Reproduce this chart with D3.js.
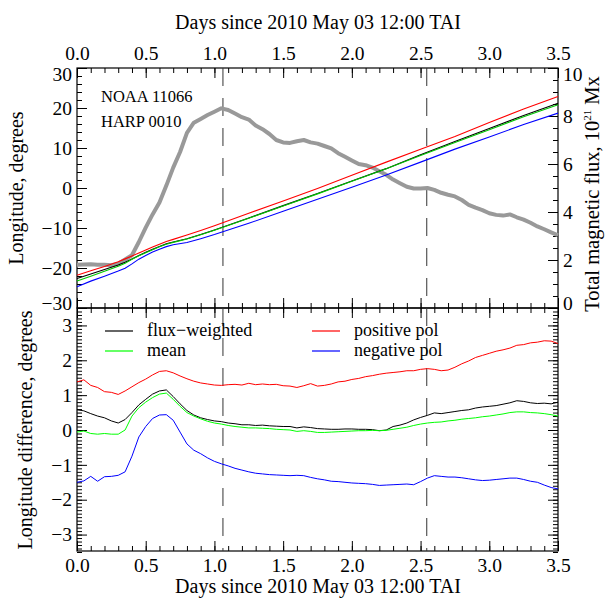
<!DOCTYPE html>
<html><head><meta charset="utf-8">
<script src="https://cdn.jsdelivr.net/npm/d3@7"></script>
<style>
body{margin:0;background:#fff}
text{font-family:"Liberation Serif","Times New Roman",serif;fill:#000}
</style>
</head><body>
<svg id="chart" width="605" height="605"></svg>
<script>
// ---------- data ----------
const days = [0,0.05,0.1,0.15,0.2,0.25,0.3,0.35,0.4,0.45,0.5,0.55,0.6,0.65,0.7,0.75,0.8,0.85,0.9,0.95,
  1,1.05,1.1,1.15,1.2,1.25,1.3,1.35,1.4,1.45,1.5,1.55,1.6,1.65,1.7,1.75,1.8,1.85,1.9,1.95,
  2,2.05,2.1,2.15,2.2,2.25,2.3,2.35,2.4,2.45,2.5,2.55,2.6,2.65,2.7,2.75,2.8,2.85,2.9,2.95,
  3,3.05,3.1,3.15,3.2,3.25,3.3,3.35,3.4,3.45,3.5];
const diffPositive = [1.38,1.44,1.28,1.22,1.10,1.08,1.02,1.12,1.24,1.36,1.46,1.58,1.68,1.70,1.64,1.55,1.47,1.40,1.35,1.32,
  1.29,1.28,1.30,1.31,1.29,1.34,1.30,1.32,1.30,1.31,1.27,1.26,1.22,1.27,1.33,1.26,1.28,1.32,1.38,1.40,
  1.45,1.48,1.53,1.56,1.60,1.63,1.65,1.67,1.70,1.70,1.74,1.76,1.74,1.70,1.72,1.80,1.90,1.98,2.08,2.14,
  2.20,2.26,2.30,2.35,2.43,2.45,2.50,2.52,2.56,2.55,2.48];
const diffFluxWeighted = [0.58,0.55,0.47,0.40,0.35,0.26,0.20,0.30,0.50,0.72,0.88,1.03,1.12,1.15,0.96,0.75,0.56,0.43,0.35,0.30,
  0.26,0.24,0.20,0.18,0.15,0.15,0.13,0.14,0.12,0.11,0.10,0.10,0.06,0.09,0.07,0.04,0.03,0.02,0.02,0.03,
  0.03,0.02,0.02,0.01,-0.02,0.00,0.10,0.14,0.20,0.29,0.36,0.42,0.49,0.47,0.50,0.53,0.56,0.58,0.63,0.66,
  0.68,0.70,0.74,0.78,0.84,0.82,0.78,0.76,0.77,0.75,0.80];
const diffMean = [-0.06,-0.03,-0.10,-0.12,-0.10,-0.12,-0.12,0.00,0.40,0.64,0.80,0.93,1.03,1.06,0.88,0.68,0.50,0.40,0.32,0.25,
  0.20,0.17,0.13,0.10,0.08,0.06,0.06,0.05,0.04,0.02,0.01,0.00,-0.04,-0.02,-0.04,-0.07,-0.07,-0.06,-0.05,-0.04,
  -0.03,-0.02,-0.02,-0.01,-0.02,-0.01,0.02,0.05,0.08,0.13,0.17,0.20,0.22,0.23,0.26,0.28,0.31,0.33,0.35,0.38,
  0.40,0.43,0.46,0.50,0.52,0.52,0.50,0.49,0.47,0.44,0.40];
const diffNegative = [-1.50,-1.46,-1.33,-1.47,-1.34,-1.33,-1.30,-1.20,-0.75,-0.20,0.10,0.33,0.43,0.44,0.28,-0.06,-0.40,-0.58,-0.68,-0.80,
  -0.90,-0.97,-1.03,-1.10,-1.15,-1.20,-1.24,-1.26,-1.28,-1.29,-1.30,-1.31,-1.30,-1.31,-1.36,-1.40,-1.43,-1.47,-1.48,-1.50,
  -1.52,-1.53,-1.54,-1.56,-1.59,-1.58,-1.57,-1.56,-1.55,-1.57,-1.48,-1.38,-1.31,-1.33,-1.35,-1.35,-1.37,-1.40,-1.43,-1.45,
  -1.44,-1.42,-1.40,-1.38,-1.38,-1.42,-1.47,-1.50,-1.58,-1.65,-1.69];

const lonDays = [0,0.1,0.2,0.3,0.35,0.4,0.45,0.5,0.55,0.6,0.65,0.7,0.8,0.9,1.0,1.25,1.5,1.75,2.0,2.25,2.5,2.75,3.0,3.25,3.5];
const lonPositive = [-21.82,-20.67,-19.61,-18.44,-17.72,-16.98,-16.23,-15.51,-14.77,-14.04,-13.40,-12.84,-11.76,-10.64,-9.45,-6.29,-3.24,-0.14,3.17,6.47,9.69,12.87,16.38,19.75,22.89];
const lonFluxWeighted = [-22.62,-21.48,-20.36,-19.26,-18.54,-17.72,-16.87,-16.09,-15.32,-14.60,-13.95,-13.52,-12.67,-11.64,-10.48,-7.48,-4.41,-1.36,1.75,4.84,8.31,11.60,14.86,18.12,21.21];
const lonMean = [-23.26,-22.05,-20.81,-19.58,-18.84,-17.82,-16.95,-16.17,-15.42,-14.69,-14.04,-13.60,-12.73,-11.67,-10.54,-7.57,-4.50,-1.47,1.69,4.83,8.12,11.35,14.58,17.82,20.81];
const lonNegative = [-24.70,-23.28,-22.05,-20.76,-20.04,-18.97,-17.79,-16.87,-16.02,-15.29,-14.66,-14.20,-13.63,-12.67,-11.64,-8.83,-5.81,-2.80,0.20,3.26,6.47,9.72,12.74,15.88,18.72];

const fluxDays = days;
const totalFlux = [1.80,1.81,1.82,1.80,1.80,1.78,1.85,2.02,2.20,2.75,3.35,3.90,4.40,5.10,5.85,6.50,7.30,7.72,7.88,8.04,
  8.18,8.32,8.25,8.10,7.95,7.85,7.60,7.45,7.25,7.00,6.90,6.88,6.95,7.00,6.90,6.85,6.75,6.65,6.45,6.30,
  6.15,6.00,5.95,5.85,5.70,5.55,5.35,5.20,5.05,4.98,4.98,5.00,4.92,4.80,4.72,4.65,4.50,4.30,4.18,4.08,
  3.95,3.88,3.85,3.90,3.78,3.68,3.55,3.40,3.28,3.15,3.03];

const markerDays = [1.062, 2.545];
const dayTicks = [0,0.5,1,1.5,2,2.5,3,3.5];
const lonTicks = [-30,-20,-10,0,10,20,30];
const fluxTicks = [0,2,4,6,8,10];
const diffTicks = [-3,-2,-1,0,1,2,3];
const legendLabels = ["flux\u2212weighted","mean","positive pol","negative pol"];
const legendColors = ["#000000","#00ff00","#ff0000","#0000ff"];
const xTitle = "Days since 2010 May 03 12:00 TAI";

// ---------- layout ----------
const L = 77, R = 558, T = 68, M = 308, B = 551;
const svg = d3.select("#chart");
svg.append("rect").attr("width",605).attr("height",605).attr("fill","#fff");

const x = d3.scaleLinear([0,3.5],[L,R]);
const yLon = d3.scaleLinear([-30,30],[M,T]);
const yFlux = d3.scaleLinear([0,10],[M,T]);
const yDiff = d3.scaleLinear([-3.5,3.5],[B+1,M]);

const minorDays = d3.range(0,36).map(i=>i/10);
const minorLon = d3.range(-15,16).map(i=>i*2);
const minorFlux = d3.range(0,21).map(i=>i*0.5);
const minorDiff = d3.range(-35,36).map(i=>i/10);

function styleAxis(g){
  g.selectAll(".domain").remove();
  g.selectAll(".tick line").attr("stroke","#000").attr("stroke-width",1);
  g.selectAll("text").style("font-size","19.5px").attr("fill","#000");
}
function addAxis(axisFn, scale, pos, majors, minors, labels, fmt){
  const gMin = svg.append("g").attr("transform",pos)
    .call(axisFn(scale).tickValues(minors).tickSize(-5).tickFormat(""));
  styleAxis(gMin);
  const ax = axisFn(scale).tickValues(majors).tickSize(-10).tickPadding(labels?7:0);
  ax.tickFormat(labels ? fmt : "");
  const g = svg.append("g").attr("transform",pos).call(ax);
  styleAxis(g);
  return g;
}
const fmtDay = d3.format(".1f");
const fmtInt = d=> d<0 ? "\u2212"+Math.abs(d) : String(d);

// top panel axes
const gTopX = addAxis(d3.axisTop, x, `translate(0,${T})`, dayTicks, minorDays, true, fmtDay);
gTopX.selectAll("text").attr("dy","0em").attr("y",-8);
addAxis(d3.axisBottom, x, `translate(0,${M})`, dayTicks, minorDays, false);
const gLonY = addAxis(d3.axisLeft, yLon, `translate(${L},0)`, lonTicks, minorLon, true, fmtInt);
gLonY.selectAll("text").attr("x",-5);
gLonY.selectAll(".tick").filter(d=>d===30).select("text").attr("dy","0.65em");
gLonY.selectAll(".tick").filter(d=>d===-30).select("text").attr("dy","0.1em");
const gFluxY = addAxis(d3.axisRight, yFlux, `translate(${R},0)`, fluxTicks, minorFlux, true, d=>String(d));
gFluxY.selectAll("text").attr("x",5);
gFluxY.selectAll(".tick").filter(d=>d===10).select("text").attr("dy","0.65em");
gFluxY.selectAll(".tick").filter(d=>d===0).select("text").attr("dy","0.1em");

// bottom panel axes
addAxis(d3.axisTop, x, `translate(0,${M})`, dayTicks, minorDays, false);
const gBotX = addAxis(d3.axisBottom, x, `translate(0,${B})`, dayTicks, minorDays, true, fmtDay);
gBotX.selectAll("text").attr("dy","0em").attr("y",21);
const gDiffY = addAxis(d3.axisLeft, yDiff, `translate(${L},0)`, diffTicks, minorDiff, true, fmtInt);
gDiffY.selectAll("text").attr("x",-5);
addAxis(d3.axisRight, yDiff, `translate(${R},0)`, diffTicks, minorDiff, false);

// frames
svg.append("rect").attr("x",L).attr("y",T).attr("width",R-L).attr("height",M-T)
  .attr("fill","none").attr("stroke","#000").attr("stroke-width",1.2);
svg.append("rect").attr("x",L).attr("y",M).attr("width",R-L).attr("height",B-M)
  .attr("fill","none").attr("stroke","#000").attr("stroke-width",1.2);

// dashed markers
markerDays.forEach(d=>{
  [[T,M],[M,B]].forEach(([y0,y1])=>{
    svg.append("line").attr("x1",x(d)).attr("x2",x(d)).attr("y1",y0).attr("y2",y1)
      .attr("stroke","#333").attr("stroke-width",1).attr("stroke-dasharray","18,12");
  });
});

// total flux (grey, right axis)
const lineFlux = d3.line().x((d,i)=>x(fluxDays[i])).y(d=>yFlux(d));
svg.append("path").datum(totalFlux).attr("d",lineFlux)
  .attr("fill","none").attr("stroke","#999").attr("stroke-width",4).attr("stroke-linejoin","round");

// longitudes
const lineLon = d3.line().x((d,i)=>x(lonDays[i])).y(d=>yLon(d));
[[lonFluxWeighted,"#000000"],[lonMean,"#00c800"],[lonPositive,"#ff0000"],[lonNegative,"#0000ff"]].forEach(([arr,c])=>{
  svg.append("path").datum(arr).attr("d",lineLon).attr("fill","none").attr("stroke",c).attr("stroke-width",1.1);
});

// differences
const lineDiff = d3.line().x((d,i)=>x(days[i])).y(d=>yDiff(d));
[[diffFluxWeighted,"#000000"],[diffMean,"#00ff00"],[diffPositive,"#ff0000"],[diffNegative,"#0000ff"]].forEach(([arr,c])=>{
  svg.append("path").datum(arr).attr("d",lineDiff).attr("fill","none").attr("stroke",c).attr("stroke-width",1);
});

// legend
const legPos = [[105,331],[105,351],[312,331],[312,351]];
legendLabels.forEach((lab,i)=>{
  const [lx,ly] = legPos[i];
  svg.append("line").attr("x1",lx).attr("x2",lx+28).attr("y1",ly).attr("y2",ly)
    .attr("stroke",legendColors[i]).attr("stroke-width",1.2);
  svg.append("text").attr("x",lx+42).attr("y",ly+5).style("font-size","18px").text(lab);
});

// annotations
svg.append("text").attr("x",101).attr("y",102).style("font-size","16.5px").text("NOAA 11066");
svg.append("text").attr("x",101).attr("y",127).style("font-size","16.5px").text("HARP 0010");

// titles
svg.append("text").attr("x",318).attr("y",29).attr("text-anchor","middle").style("font-size","20px").text(xTitle);
svg.append("text").attr("x",318).attr("y",593).attr("text-anchor","middle").style("font-size","20px").text(xTitle);
svg.append("text").attr("transform","translate(23,188) rotate(-90)").attr("text-anchor","middle")
  .style("font-size","20px").text("Longitude, degrees");
svg.append("text").attr("transform","translate(32,430) rotate(-90)").attr("text-anchor","middle")
  .style("font-size","20px").text("Longitude difference, degrees");
const rt = svg.append("text").attr("transform","translate(599,194) rotate(-90)").attr("text-anchor","middle")
  .style("font-size","20.5px");
rt.append("tspan").text("Total magnetic flux, 10");
rt.append("tspan").attr("dy",-8).style("font-size","11px").text("21");
rt.append("tspan").attr("dy",8).text(" Mx");
</script>
</body></html>
